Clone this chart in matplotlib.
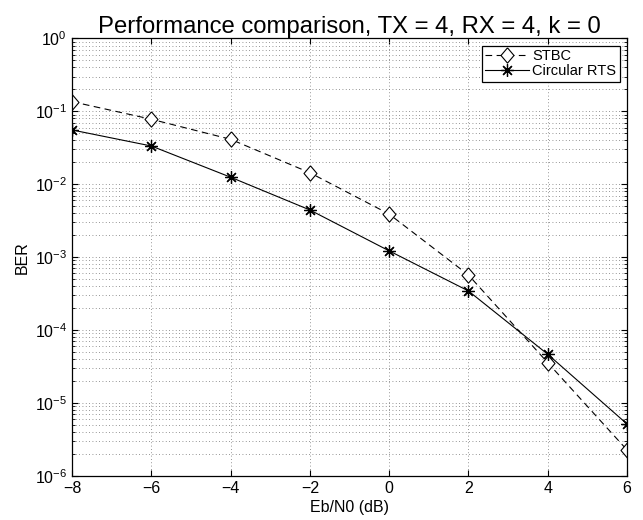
import numpy as np
import matplotlib
matplotlib.use("Agg")
import matplotlib.pyplot as plt
from matplotlib.ticker import LogLocator, NullFormatter

plt.rcParams['font.family'] = ['Liberation Sans', 'DejaVu Sans']

# data
ebn0 = [-8, -6, -4, -2, 0, 2, 4, 6]
ber_stbc = [0.136, 0.078, 0.0414, 0.0144, 0.0039, 5.7e-4, 3.57e-5, 2.27e-6]
ber_rts = [0.0556, 0.0335, 0.0125, 0.00444, 0.00122, 3.44e-4, 4.66e-5, 5.15e-6]

# matlab-like markers
diamond = [(0, 1), (0.85, 0), (0, -1), (-0.85, 0), (0, 1)]
asterisk = (8, 2, 0)

fig = plt.figure(figsize=(6.43, 5.2), dpi=100)
ax = fig.add_axes([0.112, 0.085, 0.863, 0.841])

ax.semilogy(ebn0, ber_stbc, color='k', linestyle='--', dashes=(6, 4), marker=diamond,
            markersize=11, markerfacecolor='white', markeredgewidth=0.8,
            linewidth=0.8, label='STBC')
ax.semilogy(ebn0, ber_rts, color='k', linestyle='-', marker=asterisk, markersize=9,
            markeredgewidth=0.9, linewidth=0.8, label='Circular RTS')

ax.set_xlim(-8, 6)
ax.set_ylim(1e-6, 1)
ax.set_xticks([-8, -6, -4, -2, 0, 2, 4, 6])
ax.set_xticklabels(['\u22128', '\u22126', '\u22124', '\u22122', '0', '2', '4', '6'])
ax.yaxis.set_major_locator(LogLocator(base=10, numticks=10))
ax.yaxis.set_minor_locator(LogLocator(base=10, subs=np.arange(2, 10), numticks=20))
ax.yaxis.set_minor_formatter(NullFormatter())

ax.grid(True, which='major', linestyle=(0, (1, 3)), color='0.45', linewidth=0.6)
ax.grid(True, which='minor', axis='y', linestyle=(0, (1, 3)), color='0.45', linewidth=0.6)
ax.tick_params(which='both', direction='in', top=True, right=True, labelsize=11.5)
ax.tick_params(which='minor', length=2.5)
ax.tick_params(which='major', length=4)
for s in ax.spines.values():
    s.set_linewidth(0.9)

ax.set_xlabel('Eb/N0 (dB)', fontsize=11.5, labelpad=3)
ax.set_ylabel('BER', fontsize=11.5)
ax.set_title('Performance comparison, TX = 4, RX = 4, k = 0', fontsize=17.2, pad=3)

leg = ax.legend(loc='upper right', fontsize=10.5, fancybox=False, framealpha=1,
                edgecolor='black', borderaxespad=0.5, handlelength=3.0,
                borderpad=0.25, labelspacing=0.05, handletextpad=0.2)
leg.get_frame().set_linewidth(0.9)

fig.savefig('out.png', dpi=100)
